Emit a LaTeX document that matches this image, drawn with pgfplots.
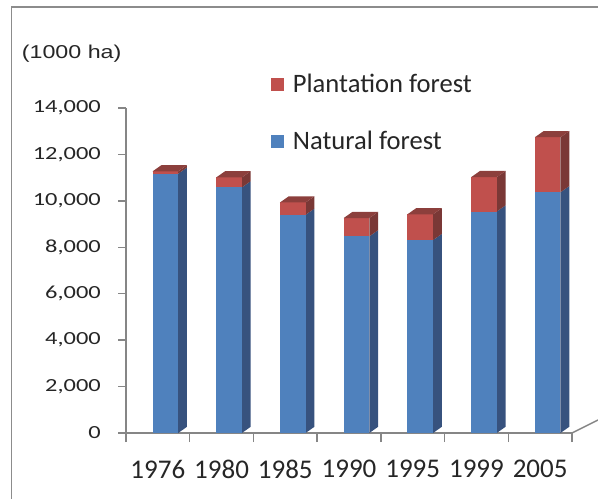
\documentclass[border=0pt]{standalone}
\usepackage{pgfplots}
\pgfplotsset{compat=1.18}
\usepackage{graphicx}
\usepackage{fontspec}
\setmainfont{Carlito}
\newfontfamily\arialf{Liberation Sans}
\definecolor{bluefront}{HTML}{4F81BD}
\definecolor{blueside}{HTML}{37527E}
\definecolor{redfront}{HTML}{C0504D}
\definecolor{redside}{HTML}{7A3836}
\definecolor{redtop}{HTML}{8C3F3C}
\definecolor{axisgray}{HTML}{868686}
\definecolor{framegray}{HTML}{8C8C8C}
\definecolor{textc}{HTML}{262626}
\begin{document}
\begin{tikzpicture}
\useasboundingbox (0,0) rectangle (598bp,499bp);
\draw[framegray, line width=2bp] (11bp,491.5bp) -- (598bp,491.5bp);
\draw[framegray, line width=1.3bp] (11.5bp,0bp) -- (11.5bp,492.5bp);
\node[anchor=base west, inner sep=0pt, text=textc, font=\arialf\fontsize{18.6bp}{20bp}\selectfont] at (21.7bp,440.7bp) {\scalebox{1.25}[1]{(1000 ha)}};
\begin{axis}[
  at={(126bp,66bp)}, anchor=south west,
  scale only axis, width=446bp, height=325bp,
  xmin=-0.5, xmax=6.5, ymin=0, ymax=14000,
  axis x line*=bottom, axis y line*=left,
  axis line style={draw=axisgray, line width=1.5bp, -},
  tick align=outside,
  major tick length=8bp, minor tick length=9bp,
  scaled y ticks=false,
  ytick={0,2000,...,14000},
  ytick style={draw=axisgray, line width=1.5bp},
  yticklabel={\scalebox{1.32}[1]{\pgfmathprintnumber[assume math mode=true, fixed, precision=0, 1000 sep={,}]{\tick}}},
  yticklabel style={font=\fontsize{18.5bp}{20bp}\selectfont, text=textc, anchor=east, inner sep=0pt, xshift=-17bp},
  xtick={0,1,2,3,4,5,6},
  xticklabels={1976,1980,1985,1990,1995,1999,2005},
  major x tick style={draw=none},
  minor xtick={-0.5,0.5,1.5,2.5,3.5,4.5,5.5,6.5},
  minor x tick style={draw=axisgray, line width=1.5bp},
  xticklabel style={font=\fontsize{27bp}{30bp}\selectfont, text=textc, anchor=north, inner sep=0pt, yshift=-19bp},
  legend image code/.code={\path[#1] (0bp,-6.5bp) rectangle (13bp,6.5bp);},
  legend style={at={(axis description cs:0.3244,1.1046)}, anchor=north west, draw=none, fill=none, inner sep=0pt,
    font=\fontsize{26.6bp}{30bp}\selectfont, text=textc, nodes={inner sep=0pt}, row sep=37bp, column sep=9bp},
  legend cell align=left,
  clip=false,
]
\addlegendimage{fill=redfront, draw=none}
\addlegendentry{Plantation forest}
\addlegendimage{fill=bluefront, draw=none}
\addlegendentry{Natural forest}
\def\bw{0.201}\def\bs{0.118}\def\ddx{0.138}\def\ddy{267}
\foreach \i/\n/\p in {0/11170/100,1/10580/430,2/9400/530,3/8470/790,4/8310/1110,5/9540/1480,6/10370/2370}{
  \pgfmathsetmacro\xl{\i+\bs-\bw}
  \pgfmathsetmacro\xr{\i+\bs+\bw}
  \pgfmathsetmacro\xrr{\xr+\ddx}
  \pgfmathsetmacro\xlr{\xl+\ddx}
  \pgfmathsetmacro\tot{\n+\p}
  \pgfmathsetmacro\nd{\n+\ddy}
  \pgfmathsetmacro\td{\tot+\ddy}
  \edef\temp{%
    \noexpand\addplot[forget plot, fill=blueside, draw=none, mark=none] coordinates {(\xr,0) (\xrr,\ddy) (\xrr,\nd) (\xr,\n)} -- cycle;
    \noexpand\addplot[forget plot, fill=redside, draw=none, mark=none] coordinates {(\xr,\n) (\xrr,\nd) (\xrr,\td) (\xr,\tot)} -- cycle;
    \noexpand\addplot[forget plot, fill=bluefront, draw=none, mark=none] coordinates {(\xl,0) (\xr,0) (\xr,\n) (\xl,\n)} -- cycle;
    \noexpand\addplot[forget plot, fill=redfront, draw=none, mark=none] coordinates {(\xl,\n) (\xr,\n) (\xr,\tot) (\xl,\tot)} -- cycle;
    \noexpand\addplot[forget plot, fill=redtop, draw=none, mark=none] coordinates {(\xl,\tot) (\xr,\tot) (\xrr,\td) (\xlr,\td)} -- cycle;
  }%
  \temp
}
\draw[axisgray, line width=1.5bp] (rel axis cs:1,0) -- ++(26bp,13bp);
\end{axis}
\end{tikzpicture}
\end{document}
